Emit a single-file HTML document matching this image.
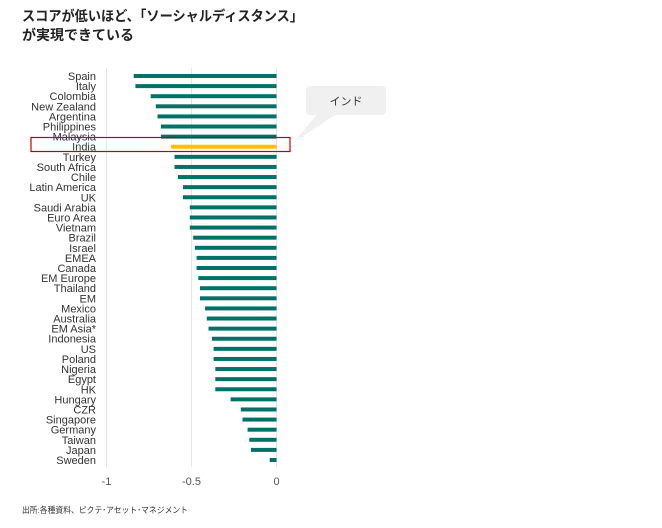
<!DOCTYPE html>
<html><head><meta charset="utf-8"><style>
body{margin:0;background:#fff;}
svg{display:block;font-family:"Liberation Sans","Noto Sans CJK JP",sans-serif;}
</style></head><body>
<svg id="chart" width="662" height="528" viewBox="0 0 662 528">
<text x="22" y="21" font-size="14" font-weight="bold" fill="#222" textLength="281" lengthAdjust="spacingAndGlyphs">スコアが低いほど、「ソーシャルディスタンス」</text>
<text x="22" y="40" font-size="14" font-weight="bold" fill="#222">が実現できている</text>
<g id="grid"></g>
<g id="bars"></g>
<g id="labels"></g>
<g id="ticks"></g>
<rect x="31" y="137.5" width="259" height="14" fill="none" stroke="#c00000" stroke-width="1.2"/>
<polygon points="318,113 338,113 294,142" fill="#f0f0f0"/>
<rect x="306" y="86" width="80" height="29" rx="4" fill="#f0f0f0"/>
<text x="346" y="105" font-size="11" text-anchor="middle" fill="#333">インド</text>
<text x="22" y="513" font-size="8.5" fill="#333" textLength="166" lengthAdjust="spacingAndGlyphs">出所:各種資料、ピクテ･アセット･マネジメント</text>
</svg>
<script>
const categories=["Spain","Italy","Colombia","New Zealand","Argentina","Philippines","Malaysia","India","Turkey","South Africa","Chile","Latin America","UK","Saudi Arabia","Euro Area","Vietnam","Brazil","Israel","EMEA","Canada","EM Europe","Thailand","EM","Mexico","Australia","EM Asia*","Indonesia","US","Poland","Nigeria","Egypt","HK","Hungary","CZR","Singapore","Germany","Taiwan","Japan","Sweden"];
const values=[-0.84,-0.83,-0.74,-0.71,-0.70,-0.68,-0.68,-0.62,-0.60,-0.60,-0.58,-0.55,-0.55,-0.51,-0.51,-0.51,-0.49,-0.48,-0.47,-0.47,-0.46,-0.45,-0.45,-0.42,-0.41,-0.40,-0.38,-0.37,-0.37,-0.36,-0.36,-0.36,-0.27,-0.21,-0.20,-0.17,-0.16,-0.15,-0.04];
const tickValues=[-1,-0.5,0];
const tickLabels=["-1","-0.5","0"];
const highlight="India";
const NS="http://www.w3.org/2000/svg";
const x=v=>276.5+v*170;
const y=i=>76+i*(384/38);
function mk(tag,attrs,parent){const e=document.createElementNS(NS,tag);for(const k in attrs)e.setAttribute(k,attrs[k]);document.getElementById(parent).appendChild(e);return e;}
tickValues.forEach((t,i)=>{
  const g=mk("line",{x1:x(t),x2:x(t),y1:68,y2:467,stroke:"#e4e4e4","stroke-width":1},"grid");
  
  
  const tl=mk("text",{x:x(t),y:485,"font-size":11,"text-anchor":"middle",fill:"#555"},"ticks");
  tl.textContent=tickLabels[i];
  
  
});
categories.forEach((c,i)=>{
  const v=values[i];
  const b=mk("rect",{x:x(v),y:y(i)-2,width:x(0)-x(v),height:4,fill:c===highlight?"#ffc000":"#007167"},"bars");
  
  
  const t=mk("text",{x:96,y:y(i)+4,"font-size":11,"text-anchor":"end",fill:"#333"},"labels");
  t.textContent=c;
  
  
});
</script>
</body></html>
